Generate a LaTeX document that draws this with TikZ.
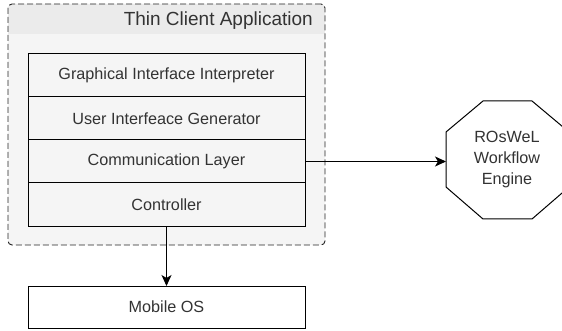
\documentclass[tikz,border=0pt]{standalone}
\usepackage{fontspec}
\setmainfont{Liberation Sans}
\usetikzlibrary{arrows.meta,positioning}
\definecolor{txt}{HTML}{333333}
\definecolor{panel}{HTML}{F5F5F5}
\definecolor{band}{HTML}{EBEBEB}
\tikzset{
  layer/.style={draw=black, fill=panel, line width=1pt, minimum width=277pt, minimum height=43pt, inner sep=0pt, outer sep=0pt, text=txt, font=\fontsize{16.2}{19}\selectfont},
  plainbox/.style={draw=black, fill=white, line width=1pt, minimum width=277pt, minimum height=42pt, inner sep=0pt, outer sep=0pt, text=txt, font=\fontsize{16.2}{19}\selectfont},
  conn/.style={line width=1pt, -{Stealth[length=11pt,width=10pt,inset=3pt]}},
}
\begin{document}
\begin{tikzpicture}[x=1pt,y=-1pt]
\useasboundingbox (0,0) rectangle (562,331);
% container
\fill[panel, rounded corners=4pt] (8,4) rectangle (325,245);
\fill[band, rounded corners=4pt] (8,4) rectangle (325,34);
\fill[band] (8,20) rectangle (325,34);
\node[draw=txt!70!black, dash pattern=on 6pt off 3pt, line width=0.9pt, rounded corners=4pt, minimum width=317pt, minimum height=241pt, inner sep=0pt, outer sep=0pt, anchor=north west] (app) at (8,4) {};
\node[anchor=east, text=txt, font=\fontsize{19}{22}\selectfont, inner sep=0pt] (title) at (313,21) {Thin Client Application};
% layers
\node[layer, anchor=north west] (gii) at (28,54) {Graphical Interface Interpreter};
\node[layer, anchor=north] (uig) at (gii.south) {User Interfeace Generator};
\node[layer, anchor=north] (comm) at (uig.south) {Communication Layer};
\node[layer, anchor=north] (ctrl) at (comm.south) {Controller};
% mobile OS
\node[plainbox, anchor=north west] (os) at (28,286) {Mobile OS};
% octagon
\draw[line width=1pt, fill=white] (483,101) -- (532,101) -- (569,132) -- (569,187) -- (532,219) -- (483,219) -- (446,187) -- (446,132) -- cycle;
\coordinate (engL) at (446,160);
\node[align=center, text=txt, font=\fontsize{16.2}{21}\selectfont, inner sep=0pt] (eng) at (507,160) {ROsWeL\\Workflow\\Engine};
% connectors
\draw[conn] (comm.east) -- (comm.east -| engL);
\draw[conn] (ctrl.south) -- (os.north);
\end{tikzpicture}
\end{document}
